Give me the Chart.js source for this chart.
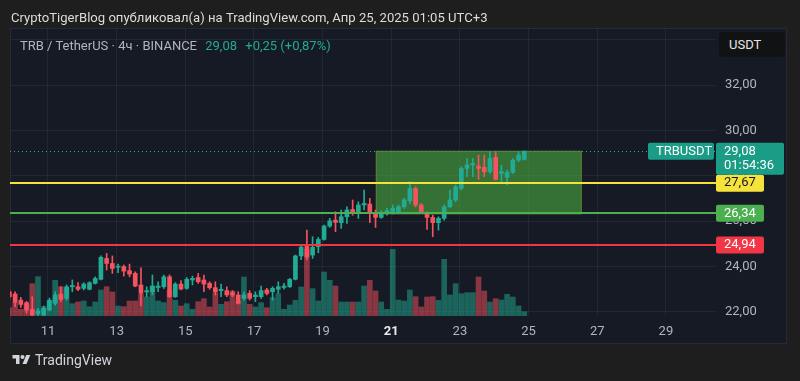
<!DOCTYPE html>
<html>
<head>
<meta charset="utf-8">
<script src="https://cdn.jsdelivr.net/npm/chart.js@4.4.1/dist/chart.umd.min.js"></script>
<style>
  html, body { margin: 0; padding: 0; background: #1e1e1e; }
  #wrap { position: relative; width: 800px; height: 381px; overflow: hidden; font-family: Roboto, "Noto Sans", sans-serif; }
  #wrap canvas { position: absolute; left: 0; top: 0; }
  .txt { position: absolute; white-space: nowrap; }
  #hdr { left: 11px; top: 10px; font-size: 13.1px; color: #dcdcdc; }
  #sym { left: 20px; top: 38px; font-size: 13px; color: #b2b5be; }
  #sym .g { color: #22ab94; margin-left: 5px; }
  #usdt { left: 719px; top: 32px; width: 66px; height: 25px; line-height: 25px; background: #111214; border-radius: 4px; font-size: 13px; color: #e6e6e6; padding-left: 10px; box-sizing: border-box; }
  #foot { left: 12px; top: 352px; font-size: 14px; color: #d1d4dc; display: flex; align-items: center; gap: 4px; }
</style>
</head>
<body>
<div id="wrap">
  <canvas id="myChart" width="800" height="381"></canvas>
  <div class="txt" id="hdr">CryptoTigerBlog опубликовал(а) на TradingView.com, Апр 25, 2025 01:05 UTC+3</div>
  <div class="txt" id="sym">TRB / TetherUS · 4ч · BINANCE <span class="g">29,08</span> <span class="g">+0,25 (+0,87%)</span></div>
  <div class="txt" id="usdt">USDT</div>
  <div class="txt" id="foot"><svg width="19" height="14" viewBox="0 0 36 28"><path fill="#d1d4dc" d="M14 22H7V11H0V4h14v18zM28 22h-8l7.5-18h8L28 22z"/><circle fill="#d1d4dc" cx="20" cy="8" r="4"/></svg><span>TradingView</span></div>
</div>
<script>
// 4h candles, TRB/USDT, first candle on Apr 9 evening
var firstDay = 9.875;
var stepDay = 1 / 6;

var opens = [22.88,22.78,22.51,22.40,22.10,21.90,21.85,22.07,22.37,22.78,
  22.59,23.10,23.10,23.03,22.99,23.25,23.43,24.35,24.13,23.96,
  23.99,23.81,23.69,23.18,22.87,22.88,23.07,23.10,23.54,22.66,
  23.22,23.03,23.40,23.51,23.40,23.25,23.06,22.93,22.93,22.84,
  22.74,22.59,22.81,22.66,22.66,22.96,22.88,22.99,23.07,23.10,
  23.43,24.46,24.88,24.50,24.87,25.19,25.78,26.04,25.93,26.19,
  26.51,26.41,26.71,26.75,26.34,26.16,26.34,26.41,26.41,26.63,
  26.90,27.44,26.71,26.37,26.16,25.93,26.12,26.63,26.93,27.44,
  28.32,28.47,28.43,28.37,28.18,28.81,28.10,27.93,28.15,28.69,28.72];
var highs = [22.99,22.88,22.63,22.46,22.66,22.15,22.25,22.60,22.88,23.10,
  23.18,23.40,23.28,23.28,23.32,23.54,24.46,24.57,24.46,24.10,
  24.06,24.10,23.76,23.94,23.10,23.62,23.32,23.62,23.62,23.28,
  23.37,23.51,23.57,23.69,23.62,23.32,23.32,23.22,23.10,22.93,
  22.88,22.88,22.93,22.88,23.13,23.03,23.10,23.32,23.25,23.47,
  24.50,24.95,25.60,25.31,25.28,25.82,26.12,26.41,26.49,26.63,
  26.93,26.85,27.37,27.00,26.49,26.46,26.56,26.71,26.71,27.00,
  27.74,27.51,26.78,26.41,26.26,26.19,26.71,27.37,27.59,28.40,
  28.76,28.76,28.91,28.91,29.06,29.06,28.47,28.25,28.76,29.06,29.10];
var lows = [22.54,22.22,22.19,21.93,21.81,21.82,21.81,22.04,22.29,22.44,
  22.51,22.88,22.93,22.96,22.96,23.22,23.40,23.84,23.69,23.72,
  23.57,23.54,23.10,22.26,22.66,22.74,22.88,23.03,22.63,22.63,
  22.96,22.99,23.18,23.25,22.88,22.99,22.74,22.66,22.66,22.66,
  22.34,22.51,22.51,22.44,22.59,22.74,22.51,22.81,22.99,23.07,
  23.40,24.30,24.28,24.35,24.60,25.16,25.72,25.53,25.68,25.90,
  26.26,26.12,26.49,25.93,25.72,26.12,26.26,26.31,26.34,26.56,
  26.78,26.63,26.34,25.63,25.31,25.60,26.04,26.60,26.85,27.37,
  27.96,27.96,27.84,27.96,28.10,27.81,27.74,27.59,28.10,28.62,28.69];
var closes = [22.66,22.41,22.32,22.07,21.85,22.04,22.15,22.51,22.74,22.54,
  23.10,23.16,22.99,23.22,23.28,23.47,24.40,24.13,23.91,24.01,
  23.79,23.66,23.13,22.81,22.93,23.13,23.13,23.54,22.66,23.22,
  23.00,23.43,23.47,23.32,23.22,23.06,22.88,22.99,22.74,22.74,
  22.37,22.74,22.59,22.74,22.93,22.81,23.03,23.10,23.13,23.43,
  24.46,24.85,24.41,24.84,25.19,25.78,26.01,25.94,26.19,26.49,
  26.37,26.71,26.78,26.34,26.16,26.37,26.46,26.56,26.63,26.93,
  27.44,26.71,26.41,26.16,25.93,26.12,26.63,26.93,27.51,28.32,
  28.47,28.54,28.32,28.18,28.76,27.84,28.18,28.15,28.69,28.91,29.08];
// volume, thousands TRB
var volumes = [25,40,20,35,97,118,28,45,107,88,
  85,37,42,45,28,42,78,88,72,30,
  28,45,45,65,57,90,45,40,77,47,
  30,37,20,43,52,27,70,35,43,75,
  45,117,35,27,40,25,55,67,20,33,
  47,87,200,82,45,132,107,90,42,42,
  42,42,90,107,75,42,20,200,48,45,
  78,58,27,57,58,47,170,63,97,67,
  70,70,117,75,42,52,48,65,57,30,13];

var dayTicks = [11,13,15,17,19,21,23,25,27,29];
var priceTicks = [22,24,26,28,30,32,34];
var levelPrices = [27.67, 26.34, 24.94];
var levelColors = ["#f5e33c", "#4caf50", "#f23645"];
var levelTextColors = ["#131722", "#ffffff", "#ffffff"];
var zoneDays = [20.55, 26.55];
var zonePrices = [26.30, 29.10];
var lastPrice = 29.08;
var countdown = "01:54:36";

var upColor = "#22ab94", downColor = "#f7525f";
var upVol = "rgba(34,171,148,0.5)", downVol = "rgba(247,82,95,0.5)";

var bodies = [], wicks = [], vols = [], bodyColors = [], volColors = [];
for (var i = 0; i < closes.length; i++) {
  var d = firstDay + i * stepDay;
  var up = closes[i] >= opens[i];
  bodies.push({x: d, y: [opens[i], closes[i]]});
  wicks.push({x: d, y: [lows[i], highs[i]]});
  vols.push({x: d, y: volumes[i]});
  bodyColors.push(up ? upColor : downColor);
  volColors.push(up ? upVol : downVol);
}

function fmt(v) { return v.toFixed(2).replace(".", ","); }

function badge(ctx, x, yc, w, h, bg, lines, fg, font) {
  ctx.fillStyle = bg;
  ctx.beginPath();
  ctx.roundRect(x, yc - h / 2, w, h, 2);
  ctx.fill();
  ctx.fillStyle = fg;
  ctx.font = font;
  ctx.textBaseline = "middle";
  ctx.textAlign = "left";
  lines.forEach(function (t, k) {
    ctx.fillText(t, x + 8, yc - h / 2 + 8.5 + k * 14);
  });
}

var drawings = {
  id: "drawings",
  beforeDraw: function (chart) {
    var ctx = chart.ctx, a = chart.chartArea, xs = chart.scales.x;
    ctx.save();
    ctx.fillStyle = "#1e1e1e";
    ctx.fillRect(0, 0, chart.width, chart.height);
    ctx.fillStyle = "#161a25";
    ctx.fillRect(a.left, a.top, chart.width - 13 - a.left, xs.bottom - a.top);
    ctx.strokeStyle = "rgba(255,255,255,0.07)";
    ctx.strokeRect(a.left + 0.5, a.top + 0.5, chart.width - 14 - a.left, xs.bottom - a.top - 1);
    ctx.restore();
  },
  beforeDatasetsDraw: function (chart) {
    var ctx = chart.ctx, a = chart.chartArea, x = chart.scales.x, y = chart.scales.y;
    ctx.save();
    ctx.beginPath();
    ctx.rect(a.left, a.top, a.right - a.left, a.bottom - a.top);
    ctx.clip();
    var l = x.getPixelForValue(zoneDays[0]), r = x.getPixelForValue(zoneDays[1]);
    var t = y.getPixelForValue(zonePrices[1]), b = y.getPixelForValue(zonePrices[0]);
    ctx.fillStyle = "rgba(78,178,64,0.57)";
    ctx.fillRect(l, t, r - l, b - t);
    ctx.strokeStyle = "rgba(110,125,55,0.8)";
    ctx.lineWidth = 1;
    ctx.strokeRect(l + 0.5, t + 0.5, r - l - 1, b - t - 1);
    ctx.restore();
  },
  afterDatasetsDraw: function (chart) {
    var ctx = chart.ctx, a = chart.chartArea, y = chart.scales.y;
    ctx.save();
    levelPrices.forEach(function (p, k) {
      var py = Math.round(y.getPixelForValue(p));
      ctx.strokeStyle = levelColors[k];
      ctx.lineWidth = 2;
      ctx.beginPath();
      ctx.moveTo(a.left, py);
      ctx.lineTo(a.right, py);
      ctx.stroke();
    });
    var lp = Math.round(y.getPixelForValue(lastPrice)) + 0.5;
    ctx.strokeStyle = upColor;
    ctx.lineWidth = 1;
    ctx.setLineDash([1, 3]);
    ctx.beginPath();
    ctx.moveTo(a.left, lp);
    ctx.lineTo(a.right, lp);
    ctx.stroke();
    ctx.restore();
  },
  afterDraw: function (chart) {
    var ctx = chart.ctx, a = chart.chartArea, y = chart.scales.y;
    ctx.save();
    var font = "13px Roboto, sans-serif";
    levelPrices.forEach(function (p, k) {
      badge(ctx, a.right, y.getPixelForValue(p), 48, 17, levelColors[k], [fmt(p)], levelTextColors[k], font);
    });
    var ly = y.getPixelForValue(lastPrice);
    badge(ctx, a.right - 68, ly, 66, 17, "#1a9c86", ["TRBUSDT"], "#ffffff", "13px Roboto, sans-serif");
    ctx.fillStyle = "#1a9c86";
    ctx.beginPath();
    ctx.roundRect(a.right, ly - 8.5, 68, 32, 2);
    ctx.fill();
    ctx.fillStyle = "#ffffff";
    ctx.font = font;
    ctx.textBaseline = "middle";
    ctx.fillText(fmt(lastPrice), a.right + 8, ly);
    ctx.fillText(countdown, a.right + 8, ly + 14);
    ctx.restore();
  }
};

new Chart("myChart", {
  type: "bar",
  data: {
    datasets: [{
      data: bodies,
      backgroundColor: bodyColors,
      barThickness: 4,
      minBarLength: 1,
      grouped: false,
      order: 1
    }, {
      data: wicks,
      backgroundColor: bodyColors,
      barThickness: 1,
      grouped: false,
      order: 2
    }, {
      data: vols,
      yAxisID: "v",
      backgroundColor: volColors,
      barThickness: 5,
      grouped: false,
      order: 3
    }]
  },
  options: {
    responsive: false,
    animation: false,
    layout: {padding: {left: 10, top: 28, right: 0, bottom: 37}},
    plugins: {legend: {display: false}, tooltip: {enabled: false}},
    scales: {
      x: {
        type: "linear",
        offset: false,
        min: 9.893,
        max: 30.46,
        afterBuildTicks: function (s) { s.ticks = dayTicks.map(function (v) { return {value: v}; }); },
        afterFit: function (s) { s.height = 28; },
        grid: {color: "rgba(240,243,250,0.06)", drawTicks: false, offset: false},
        border: {display: false},
        ticks: {
          autoSkip: false,
          maxRotation: 0,
          padding: 8,
          color: function (c) { return c.tick && c.tick.value === 21 ? "#e8e8ea" : "#b2b5be"; },
          font: function (c) {
            return {family: "Roboto", size: 13, weight: c.tick && c.tick.value === 21 ? "bold" : "normal"};
          },
          callback: function (v) { return String(v); }
        }
      },
      y: {
        position: "right",
        min: 21.81,
        max: 34.52,
        afterBuildTicks: function (s) { s.ticks = priceTicks.map(function (v) { return {value: v}; }); },
        afterFit: function (s) { s.width = 84; },
        grid: {color: "rgba(240,243,250,0.06)", drawTicks: false},
        border: {display: false},
        ticks: {
          padding: 9,
          color: "#b2b5be",
          font: {family: "Roboto", size: 13},
          callback: function (v) { return fmt(v); }
        }
      },
      v: {
        display: false,
        min: 0,
        max: 864
      }
    }
  },
  plugins: [drawings]
});
</script>
</body>
</html>
